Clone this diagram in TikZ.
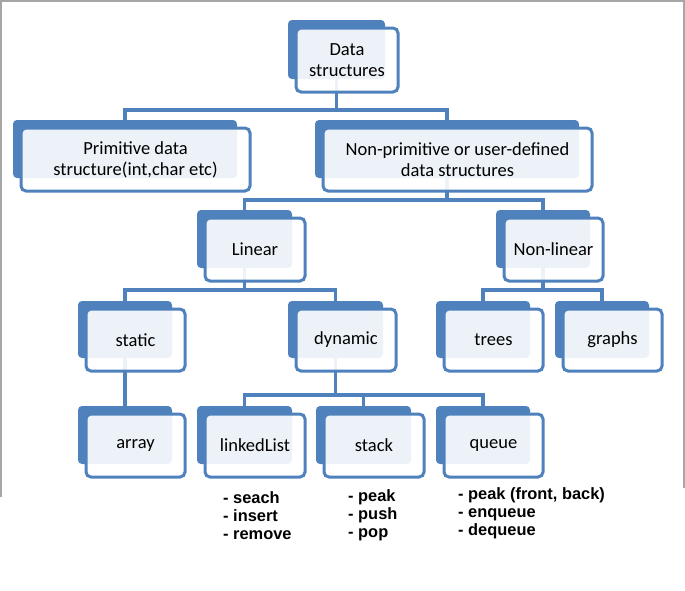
\documentclass[tikz,border=0pt]{standalone}
\usepackage{fontspec}
\setmainfont{Carlito}
\newfontfamily\listfont{Liberation Sans}
\usetikzlibrary{backgrounds}
\definecolor{accent}{HTML}{4F81BD}
\definecolor{framegray}{HTML}{A6A6A6}
\newcommand{\smartnode}[6]{%
  \node[backbox, minimum width={(#4-#2)*1pt}, minimum height={(#5-#3)*1pt}] (#1) at ({(#2+#4)/2},{(#3+#5)/2}) {};
  \node[frontbox, minimum width={(#4-#2+5)*1pt}, minimum height={(#5-#3+5)*1pt}] (#1-f) at ({(#2+#4)/2+10.5},{(#3+#5)/2+10.5}) {};
  \node[boxtext] (#1-t) at ({(#2+#4)/2+10.5},{(#3+#5)/2+10.5}) {#6};
}
\begin{document}
\begin{tikzpicture}[x=1pt,y=-1pt,
  backbox/.style={rectangle, rounded corners=4pt, fill=accent, draw=none, inner sep=0pt, outer sep=0pt},
  frontbox/.style={rectangle, rounded corners=5pt, fill=white, fill opacity=0.9, draw=accent, draw opacity=1, line width=3pt, inner sep=0pt, outer sep=0pt},
  boxtext/.style={align=center, inner sep=0pt, font=\fontsize{18.5}{21}\selectfont, text=black},
  listtext/.style={anchor=base west, inner sep=0pt, font=\listfont\bfseries\fontsize{16.4}{18.3}\selectfont},
  conn/.style={draw=accent, line width=3.2pt},
  frame/.style={draw=framegray, line width=1.5pt}]
\useasboundingbox (0,0) rectangle (685,590);
\draw[frame] (0.75,497) -- (0.75,0.75) -- (684,0.75) -- (684,488);

\smartnode{ds}{288}{20}{385}{79}{Data\\structures}
\smartnode{prim}{13}{120}{237}{178}{Primitive data\\structure(int,char etc)}
\smartnode{nonprim}{315}{120}{579}{178}{Non-primitive or user-defined\\data structures}
\smartnode{lin}{197}{210}{292}{268}{Linear}
\smartnode{nonlin}{496}{210}{590}{268}{Non-linear}
\smartnode{static}{78}{301}{172}{358}{static}
\smartnode{dyn}{288}{301}{383}{358}{dynamic}
\smartnode{trees}{436}{301}{530}{358}{trees}
\smartnode{graphs}{555}{301}{649}{358}{graphs}
\smartnode{array}{78}{406}{172}{464}{array}
\smartnode{ll}{197}{406}{292}{464}{linkedList}
\smartnode{stack}{316}{406}{411}{464}{stack}
\smartnode{queue}{436}{406}{530}{464}{queue}

\node[listtext] (ll-ops) at (223,503) {\begin{tabular}[t]{@{}l@{}}- seach\\- insert\\- remove\end{tabular}};
\node[listtext] (stack-ops) at (348,501) {\begin{tabular}[t]{@{}l@{}}- peak\\- push\\- pop\end{tabular}};
\node[listtext] (queue-ops) at (458,499) {\begin{tabular}[t]{@{}l@{}}- peak (front, back)\\- enqueue\\- dequeue\end{tabular}};

\coordinate (bus1) at (0,110);
\coordinate (bus2) at (0,200);
\coordinate (bus3) at (0,290);
\coordinate (bus4) at (0,395);

\begin{pgfonlayer}{background}
\draw[conn] (ds.south) -- (ds.south |- bus1) -| (prim.north);
\draw[conn] (ds.south |- bus1) -| (nonprim.north);
\draw[conn] (nonprim.south) -- (nonprim.south |- bus2) -| (lin.north);
\draw[conn] (nonprim.south |- bus2) -| (nonlin.north);
\draw[conn] (lin.south) -- (lin.south |- bus3) -| (static.north);
\draw[conn] (lin.south |- bus3) -| (dyn.north);
\draw[conn] (nonlin.south) -- (nonlin.south |- bus3) -| (trees.north);
\draw[conn] (nonlin.south |- bus3) -| (graphs.north);
\draw[conn] (static.south) -- (array.north);
\draw[conn] (dyn.south) -- (dyn.south |- bus4) -| (ll.north);
\draw[conn] (dyn.south |- bus4) -| (stack.north);
\draw[conn] (dyn.south |- bus4) -| (queue.north);
\end{pgfonlayer}
\end{tikzpicture}
\end{document}
